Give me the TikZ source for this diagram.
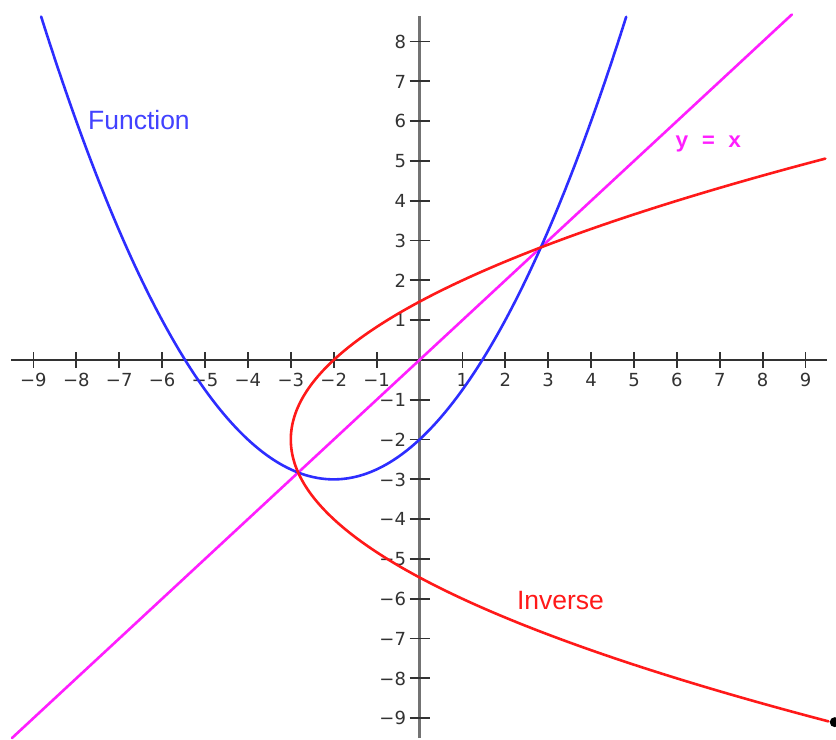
\documentclass[tikz,border=0pt]{standalone}
\usepackage{fontspec}
\setmainfont{Liberation Sans}
\newfontfamily\tickfont{DejaVu Sans}
\newfontfamily\labelmono{Liberation Mono}
\definecolor{funcblue}{RGB}{45,45,255}
\definecolor{invred}{RGB}{255,25,25}
\definecolor{diagmagenta}{RGB}{255,30,255}
\definecolor{axisdark}{RGB}{50,50,50}
\definecolor{axisgray}{RGB}{115,115,115}
\usetikzlibrary{positioning}

\tikzset{
    curve/.style={line width=2.6pt, line join=round, line cap=round},
    tickline/.style={axisdark, line width=1.8pt},
    ticklabel/.style={font=\tickfont\fontsize{18}{18}\selectfont, text=axisdark, inner sep=0pt},
    curvelabel/.style={font=\fontsize{26.5}{27}\selectfont, inner sep=0pt, anchor=base west}
}

\begin{document}
\begin{tikzpicture}[x=42.9pt, y=39.8pt]
    \useasboundingbox (-9.779,-9.548) rectangle (9.709,9.045);

    % axes
    \draw[axisdark, line width=2.4pt] (-9.52,0) -- (9.50,0);
    \draw[axisgray, line width=2.8pt] (0,-9.5) -- (0,8.64);

    % ticks and their numbers
    \foreach \n in {1,...,9} {
        \draw[tickline] (\n,0) ++(0,-8pt) -- ++(0,16pt);
        \draw[tickline] (-\n,0) ++(0,-8pt) -- ++(0,16pt);
        \node[ticklabel, anchor=base] (xpos\n) at (\n,-0.67) {\n};
        \node[ticklabel, anchor=base] (xneg\n) at (-\n,-0.67) {−\n};
        \draw[tickline] (0,-\n) ++(-10pt,0) -- ++(20pt,0);
        \node[ticklabel, anchor=base east] (yneg\n) at (-0.31,-\n-0.17) {−\n};
    }
    \foreach \n in {1,...,8} {
        \draw[tickline] (0,\n) ++(-10pt,0) -- ++(20pt,0);
        \node[ticklabel, anchor=base east] (ypos\n) at (-0.31,\n-0.17) {\n};
    }

    % function, inverse and y = x
    \draw[curve, diagmagenta] (-9.5,-9.5) -- (8.68,8.68);
    \draw[curve, funcblue, domain=-8.82:4.82, samples=120, smooth]
        plot (\x, {(\x+2)^2/4-3});
    \draw[curve, invred, domain=-9.08:5.06, samples=120, smooth]
        plot ({(\x+2)^2/4-3}, \x);
    \fill[black] (9.68,-9.1) circle (5pt);

    \node[curvelabel, text=funcblue!90!white] (fnlabel) at (-7.73,5.78) {Function};
    \node[curvelabel, text=diagmagenta, font=\labelmono\bfseries\fontsize{22}{22}\selectfont] (diaglabel) at (5.96,5.35) {y = x};
    \node[curvelabel, text=invred] (invlabel) at (2.27,-6.26) {Inverse};
\end{tikzpicture}
\end{document}
